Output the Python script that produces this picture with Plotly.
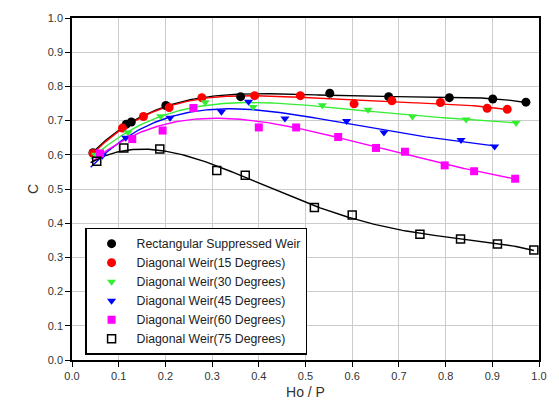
import numpy as np
import plotly.graph_objects as go

# Ho/P and C values
rect_x = [0.045, 0.116, 0.127, 0.201, 0.361, 0.552, 0.678, 0.808, 0.901, 0.972]
rect_y = [0.606, 0.689, 0.696, 0.744, 0.770, 0.780, 0.770, 0.767, 0.763, 0.754]

d15_x = [0.045, 0.108, 0.153, 0.208, 0.278, 0.391, 0.489, 0.604, 0.685, 0.789, 0.889, 0.932]
d15_y = [0.604, 0.678, 0.712, 0.738, 0.767, 0.773, 0.773, 0.749, 0.758, 0.753, 0.736, 0.733]

d30_x = [0.05, 0.12, 0.19, 0.285, 0.388, 0.536, 0.634, 0.729, 0.844, 0.951]
d30_y = [0.600, 0.665, 0.713, 0.754, 0.740, 0.745, 0.732, 0.712, 0.703, 0.694]

d45_x = [0.065, 0.115, 0.21, 0.32, 0.378, 0.456, 0.588, 0.668, 0.833, 0.905]
d45_y = [0.597, 0.650, 0.708, 0.726, 0.755, 0.706, 0.699, 0.665, 0.643, 0.624]

d60_x = [0.06, 0.129, 0.194, 0.26, 0.40, 0.48, 0.57, 0.651, 0.713, 0.798, 0.861, 0.949]
d60_y = [0.604, 0.646, 0.671, 0.737, 0.680, 0.680, 0.652, 0.620, 0.609, 0.569, 0.552, 0.530]

d75_x = [0.053, 0.111, 0.188, 0.31, 0.371, 0.519, 0.60, 0.745, 0.832, 0.911, 0.989]
d75_y = [0.581, 0.620, 0.617, 0.554, 0.540, 0.446, 0.424, 0.368, 0.354, 0.339, 0.322]

names = ["Rectangular Suppressed Weir", "Diagonal Weir(15 Degrees)", "Diagonal Weir(30 Degrees)",
         "Diagonal Weir(45 Degrees)", "Diagonal Weir(60 Degrees)", "Diagonal Weir(75 Degrees)"]
xs = [rect_x, d15_x, d30_x, d45_x, d60_x, d75_x]
ys = [rect_y, d15_y, d30_y, d45_y, d60_y, d75_y]
line_colors = ["#000000", "#ff0000", "#33ee33", "#0000ff", "#ff00ff", "#000000"]
symbols = ["circle", "circle", "triangle-down", "triangle-down", "square", "square-open"]
mcolors = ["#000000", "#ff0000", "#33ee33", "#0000ff", "#ff00ff", "#000000"]
degs = [4, 4, 4, 4, 4, 4]

fig = go.Figure()
for x, y, c, d in zip(xs, ys, line_colors, degs):
    coef = np.polyfit(x, y, d)
    xf = np.linspace(0.04, max(x), 200)
    fig.add_trace(go.Scatter(x=xf, y=np.polyval(coef, xf), mode="lines",
                             line=dict(color=c, width=1.4), showlegend=False, hoverinfo="skip"))

for x, y, n, s, mc in zip(xs, ys, names, symbols, mcolors):
    fig.add_trace(go.Scatter(x=x, y=y, mode="markers", name=n,
                             marker=dict(symbol=s, color=mc, size=9 if "circle" in s else 8,
                                         line=dict(width=1.5 if s == "square-open" else 0, color=mc))))

axis_common = dict(showline=True, linecolor="black", linewidth=1.5, mirror=True,
                   showgrid=True, gridcolor="#cccccc", gridwidth=1,
                   ticks="outside", ticklen=5, tickcolor="black", tickwidth=1.2,
                   zeroline=False, tickformat=".1f", dtick=0.1,
                   tickfont=dict(family="Liberation Sans, Arial", size=11, color="#333333"))

fig.update_xaxes(range=[0, 1], title=dict(text="Ho / P", font=dict(family="Liberation Sans, Arial", size=14, color="#333333"), standoff=6), **axis_common)
fig.update_yaxes(range=[0, 1], title=dict(text="C", font=dict(family="Liberation Sans, Arial", size=14, color="#333333"), standoff=6), **axis_common)

fig.update_layout(
    width=559, height=415,
    margin=dict(l=72, r=13, t=16, b=55),
    paper_bgcolor="white", plot_bgcolor="white",
    legend=dict(x=0.028, y=0.387, xanchor="left", yanchor="top",
                bgcolor="white", bordercolor="black", borderwidth=1.5,
                font=dict(family="Liberation Sans, Arial", size=12.3, color="#222222"),
                tracegroupgap=0, itemwidth=40),
    font=dict(family="Liberation Sans, Arial"),
)

fig.write_html("out.html")
